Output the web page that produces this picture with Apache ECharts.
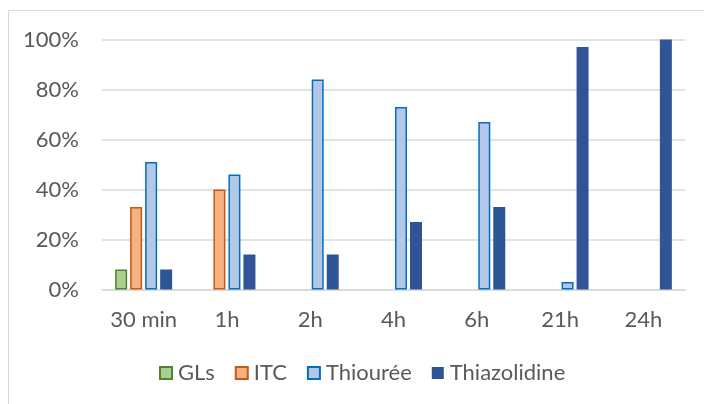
<!DOCTYPE html>
<html>
<head>
<meta charset="utf-8">
<script src="https://cdn.jsdelivr.net/npm/echarts@6/dist/echarts.min.js"></script>
<style>
  html, body { margin: 0; padding: 0; background: #fff; }
  #chart { width: 704px; height: 404px; }
</style>
</head>
<body>
<div id="chart"></div>
<script>
// Time points
const categories = ['30 min', '1h', '2h', '4h', '6h', '21h', '24h'];
// Share of each species (%) at each time point
const gls = [8, 0, 0, 0, 0, 0, 0];
const itc = [33, 40, 0, 0, 0, 0, 0];
const thiouree = [51, 46, 84, 73, 67, 3, 0];
const thiazolidine = [8, 14, 14, 27, 33, 97, 100];
const yTicks = [0, 20, 40, 60, 80, 100];

const FONT = 'Lato';
const TEXT = '#595959';
const SIZE = 22;

function barSeries(name, data, fill, stroke) {
  return {
    name: name,
    type: 'bar',
    data: data.map(v => (v === 0 ? null : v)),
    barWidth: 12,
    barGap: '25%',
    itemStyle: { color: fill, borderColor: stroke, borderWidth: stroke ? 1.5 : 0 }
  };
}

const chart = echarts.init(document.getElementById('chart'), null, { renderer: 'canvas' });
chart.setOption({
  animation: false,
  backgroundColor: '#fff',
  textStyle: { fontFamily: FONT },
  graphic: [{
    type: 'rect',
    shape: { x: 8.5, y: 10.5, width: 720, height: 420 },
    style: { fill: 'none', stroke: '#d9d9d9', lineWidth: 1 },
    silent: true
  }],
  grid: { left: 102, right: 19, top: 39.5, bottom: 114.5, containLabel: false },
  legend: {
    left: 159,
    top: 362,
    padding: 0,
    itemWidth: 12,
    itemHeight: 12,
    itemGap: 20,
    textStyle: { fontFamily: FONT, fontSize: SIZE, color: TEXT, padding: [0, 0, 0, 1] },
    icon: 'rect',
    data: ['GLs', 'ITC', 'Thiourée', 'Thiazolidine']
  },
  xAxis: {
    type: 'category',
    data: categories,
    axisLine: { lineStyle: { color: '#d9d9d9', width: 1.5 } },
    axisTick: { show: false },
    axisLabel: { fontFamily: FONT, fontSize: SIZE, color: TEXT, margin: 19, interval: 0, hideOverlap: false }
  },
  yAxis: {
    type: 'value',
    min: yTicks[0],
    max: yTicks[yTicks.length - 1],
    interval: 20,
    axisLine: { show: false },
    axisTick: { show: false },
    splitLine: { lineStyle: { color: '#d9d9d9', width: 1.5 } },
    axisLabel: { fontFamily: FONT, fontSize: SIZE, color: TEXT, margin: 23, formatter: v => v + '%' }
  },
  series: [
    barSeries('GLs', gls, '#a9d18e', '#548235'),
    barSeries('ITC', itc, '#f4b183', '#c55a11'),
    barSeries('Thiourée', thiouree, '#b4c7e7', '#0070c0'),
    barSeries('Thiazolidine', thiazolidine, '#2f5597', null)
  ]
});
</script>
</body>
</html>
